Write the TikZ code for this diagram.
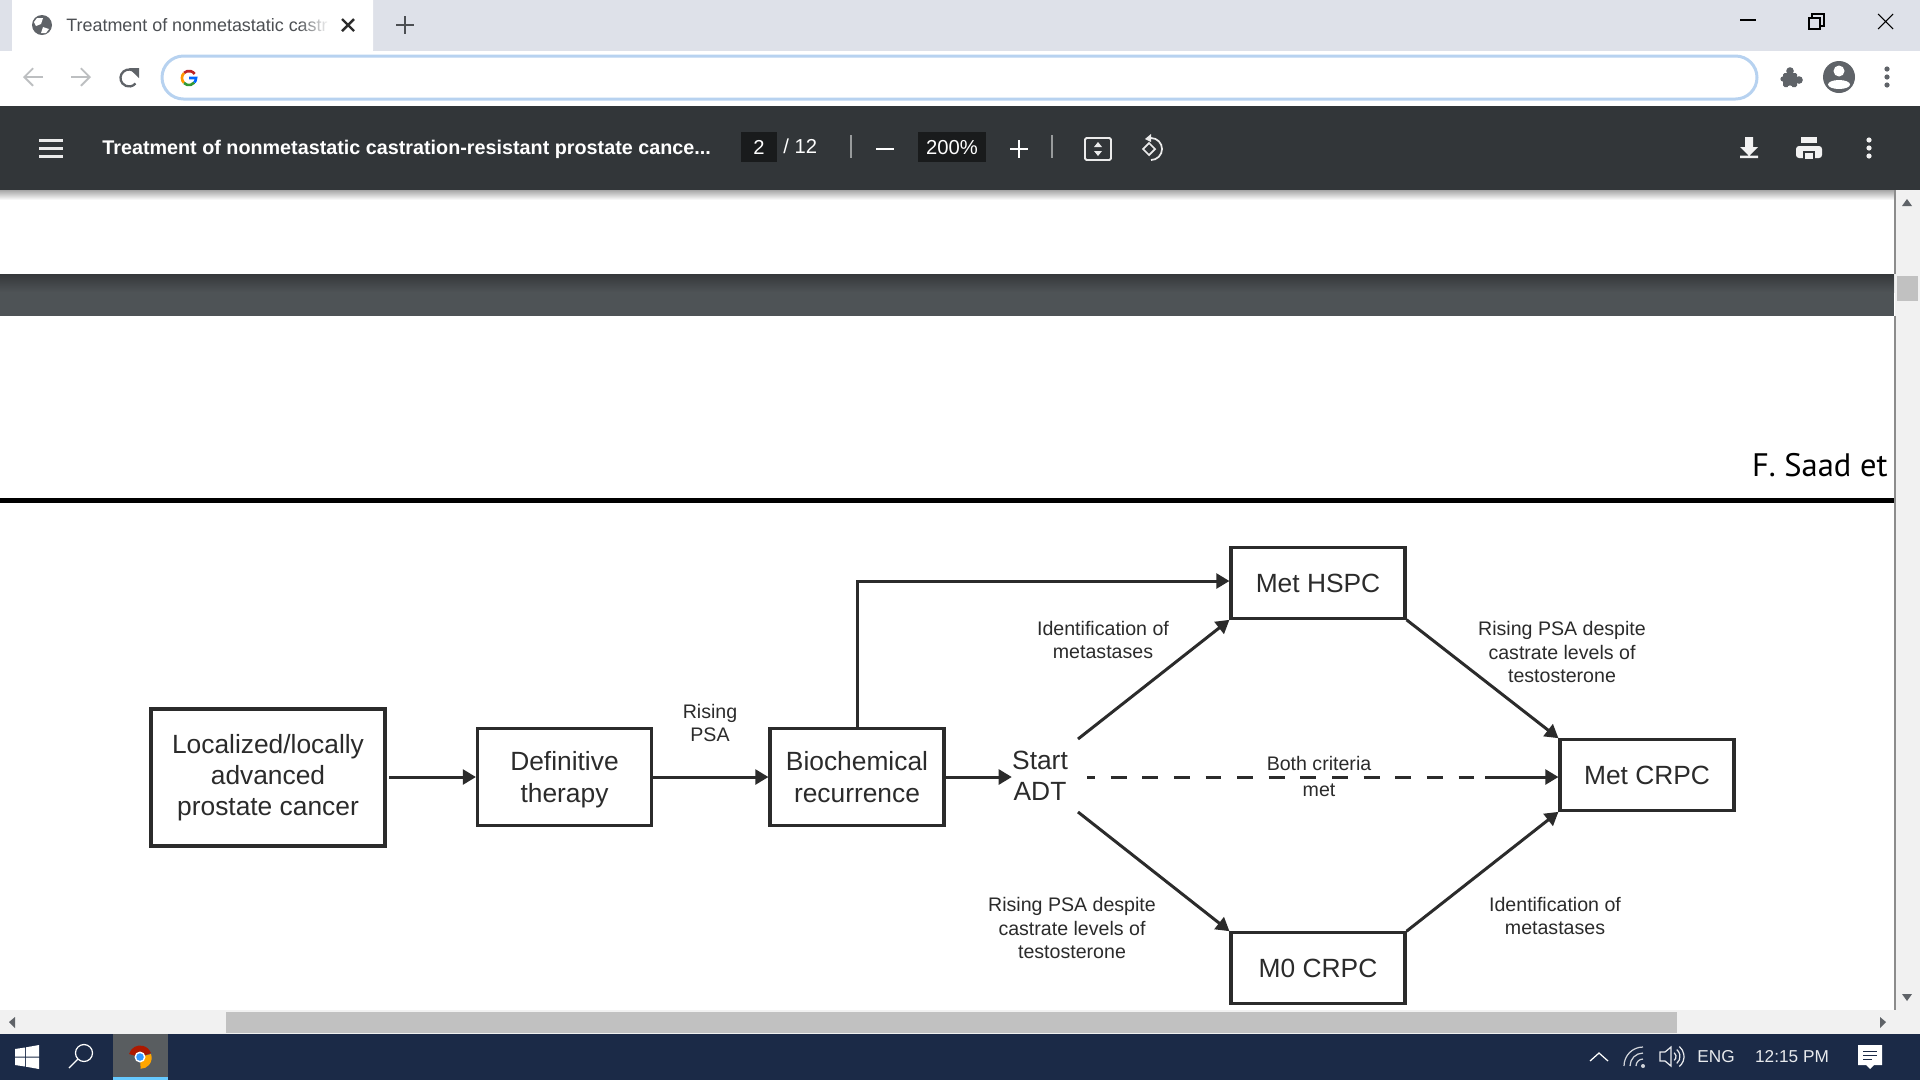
\documentclass[tikz,border=0pt]{standalone}
\usepackage{fontspec}
\setmainfont{Liberation Sans}
\newfontfamily\headfont{PT Sans}
\usetikzlibrary{arrows.meta,fadings}
\definecolor{stripgray}{HTML}{DEE1E9}
\definecolor{viewerbar}{HTML}{323639}
\definecolor{fieldblack}{HTML}{191B1C}
\definecolor{omniblue}{HTML}{B7D2F0}
\definecolor{icongray}{HTML}{5F6368}
\definecolor{navgray}{HTML}{BDBFC1}
\definecolor{taskblue}{HTML}{1B2A47}
\definecolor{taskbutton}{HTML}{595D60}
\definecolor{scrolltrack}{HTML}{F1F1F1}
\definecolor{scrollthumb}{HTML}{C1C1C1}
\definecolor{diagramink}{HTML}{2B2B2B}
\definecolor{bandtop}{HTML}{35383A}
\definecolor{bandmid}{HTML}{4E5356}
\tikzset{
  icon/.style={
    x=0.02cm,
    y=0.02cm
  },
  shortbox/.style={
    draw=diagramink,
    line width=1.8pt,
    font=\fontsize{15}{17.8}\selectfont,
    text=diagramink,
    align=center,
    inner sep=0,
    minimum width=3.48cm,
    minimum height=1.41cm
  },
  tallbox/.style={
    shortbox,
    text depth=-3pt,
    minimum height=1.94cm
  },
  bigbox/.style={
    shortbox,
    minimum width=4.68cm,
    minimum height=2.74cm
  },
  stage/.style={
    font=\fontsize{15}{17.8}\selectfont,
    text=diagramink,
    align=center,
    inner sep=0
  },
  note/.style={
    font=\fontsize{11.15}{13.6}\selectfont,
    text=diagramink,
    align=center,
    inner sep=0
  },
  flow/.style={
    draw=diagramink,
    line width=1.7pt,
    -{Triangle[length=7.5pt,width=8.5pt]}
  },
  uitext/.style={
    text=white,
    inner sep=0
  }
}
\begin{document}
\begin{tikzpicture}[x=0.02cm,y=-0.02cm]
  \useasboundingbox (0,0) rectangle (1920,1080);
  \fill[white] (0,0) rectangle (1920,1080);

  % browser tabs and address bar
  \fill[stripgray] (0,0) rectangle (1920,51);
  \fill[white,rounded corners=0.24cm] (12,-12) rectangle (373,62);
  \fill[white] (0,51) rectangle (1920,106);
  \fill[icongray] (42,25) circle (10);
  \fill[white] (37,18) -- (43,18) -- (41,24) -- (36,26) -- (34,22) -- cycle;
  \fill[white] (43,27) -- (49,29) -- (46,33) -- (41,33) -- cycle;
  \node[font=\fontsize{10.2}{12}\selectfont,text=icongray!80!black,anchor=west,inner sep=0] (tabtitle) at (66,25) {Treatment of nonmetastatic castr};
  \fill[white] (328,10) rectangle (340,40);
  \fill[white,path fading=west] (298,10) rectangle (329,40);
  \draw[line width=1.4pt,diagramink] (342,19) -- (354,31) (354,19) -- (342,31);
  \draw[line width=1.6pt,icongray!80!black] (396,25) -- (414,25) (405,16) -- (405,34);
  \draw[line width=0.6pt] (1740,20) -- (1756,20);
  \draw[line width=0.6pt] (1809,18) rectangle (1820,29);
  \draw[line width=0.6pt] (1812,18) -- (1812,14) -- (1824,14) -- (1824,26) -- (1820,26);
  \draw[line width=0.6pt] (1878,14) -- (1893,29) (1893,14) -- (1878,29);
  \draw[navgray,line width=1.1pt,-{Straight Barb[length=5pt,width=10pt]}] (43,77) -- (23,77);
  \draw[navgray,line width=1.1pt,-{Straight Barb[length=5pt,width=10pt]}] (71,77) -- (91,77);
  \begin{scope}[shift={(129,78)},icon]
    \draw[icongray,line width=1.3pt] (40:8.5) arc (40:320:8.5);
    \fill[icongray] (10,10) -- (10,0) -- (0,10) -- cycle;
  \end{scope}
  \draw[omniblue,line width=1.7pt,rounded corners=0.43cm] (162,56) rectangle (1757,99);
  \begin{scope}[shift={(189,78)},icon,line width=1.5pt]
    \draw[red!70!black!85] (-5,5) arc (135:35:7);
    \draw[orange!80!yellow] (-5,5) arc (135:225:7);
    \draw[green!50!black!80] (-5,-5) arc (225:320:7);
    \draw[blue!60!cyan] (5.4,-4.5) arc (320:360:7) -- (0,0);
  \end{scope}
  \begin{scope}[shift={(1791,78)},icon]
    \fill[icongray,rounded corners=0.03cm] (-8,-9) rectangle (6,5);
    \fill[icongray] (-1,7) circle (3.8) (8,-2) circle (3.8) (-8,-1) circle (2.6);
    \fill[white] (-1,-10) circle (2.6);
  \end{scope}
  \fill[icongray] (1839,77) circle (16);
  \fill[white] (1839,71) circle (5.5);
  \fill[white] (1839,84.5) ellipse (11 and 4.5);
  \foreach \dotrow in {69,77,85}{
    \fill[icongray] (1887,\dotrow) circle (2.6);
  }

  % pdf viewer toolbar
  \shade[top color=black!35,bottom color=white] (0,190) rectangle (1920,200);
  \fill[viewerbar] (0,106) rectangle (1920,190);
  \foreach \barrow in {140,148,156}{
    \fill[white!92!black] (39,\barrow-1.5) rectangle (63,\barrow+1.5);
  }
  \node[uitext,font=\fontsize{11.25}{14}\selectfont\bfseries,anchor=west] (pdftitle) at (102,149) {Treatment of nonmetastatic castration-resistant prostate cance...};
  \fill[fieldblack] (741,132) rectangle (777,162);
  \node[uitext,font=\fontsize{11.5}{14}\selectfont] (pagenum) at (759,147) {2};
  \node[uitext,font=\fontsize{11.5}{14}\selectfont,anchor=west] (pagetotal) at (783,146) {/ 12};
  \draw[white!50!viewerbar,line width=0.7pt] (851,135) -- (851,158) (1052,135) -- (1052,158);
  \draw[white,line width=1.2pt] (876,149) -- (894,149) (1010,149) -- (1028,149) (1019,140) -- (1019,158);
  \fill[fieldblack] (918,132) rectangle (986,162);
  \node[uitext,font=\fontsize{11.5}{14}\selectfont] (zoomfield) at (952,148) {200\%};
  \draw[white!92!black,line width=1.1pt,rounded corners=0.03cm] (1085,138) rectangle (1111,160);
  \fill[white!92!black] (1098,142) -- (1094,147) -- (1102,147) -- cycle (1098,156) -- (1094,151) -- (1102,151) -- cycle;
  \begin{scope}[shift={(1151,149)},icon]
    \draw[white!92!black,line width=1pt] (-8,0) -- (-2,6) -- (4,0) -- (-2,-6) -- cycle;
    \draw[white!92!black,line width=1pt] (0,-11) arc (-90:90:11);
    \fill[white!92!black] (0,15) -- (-6,10) -- (0,7) -- cycle;
  \end{scope}
  \fill[white!95!black] (1745,137) rectangle (1753,147) (1740,147) -- (1758,147) -- (1749,156) -- cycle (1740,155.5) rectangle (1758,158);
  \fill[white!95!black,rounded corners=0.06cm] (1796,146) rectangle (1822,158);
  \fill[white!95!black] (1801,137) rectangle (1817,143);
  \fill[viewerbar] (1803,151) rectangle (1815,159);
  \fill[white!95!black] (1805,153) rectangle (1813,159);
  \foreach \dotrow in {140,148,156}{
    \fill[white!95!black] (1869,\dotrow) circle (2.6);
  }

  % page with the figure
  \shade[top color=bandtop,bottom color=bandmid] (0,274) rectangle (1894,292);
  \fill[bandmid] (0,292) rectangle (1894,316);
  \node[font=\headfont\fontsize{18.5}{22}\selectfont,text=black,anchor=east,inner sep=0] (runninghead) at (1888,465) {F. Saad et};
  \fill[black] (0,497.5) rectangle (1894,502.5);

  \node[bigbox] (localized) at (268,777.5) {Localized/locally\\advanced\\prostate cancer};
  \node[tallbox] (definitive) at (564.5,777) {Definitive\\therapy};
  \node[tallbox] (biochem) at (857,777) {Biochemical\\recurrence};
  \node[stage] (startadt) at (1040,776) {Start\\ADT};
  \node[shortbox] (methspc) at (1318,583) {Met HSPC};
  \node[shortbox] (metcrpc) at (1647,775) {Met CRPC};
  \node[shortbox] (mzerocrpc) at (1318,968) {M0 CRPC};
  \coordinate (startup) at (1078,739);
  \coordinate (startdown) at (1078,812);
  \coordinate (dashstart) at (1087,777);
  \coordinate (dashend) at (1485,777);
  \coordinate (bioturn) at (857,581);

  \draw[flow,shorten <=1.5pt] (localized.east |- definitive) -- (definitive.west);
  \draw[flow] (definitive.east) -- (biochem.west);
  \draw[flow] (biochem.east) -- (startadt.west |- biochem);
  \draw[flow] (biochem.north) -- (bioturn) -- (bioturn -| methspc.west);
  \draw[flow] (startup) -- (methspc.south west);
  \draw[flow] (startdown) -- (mzerocrpc.north west);
  \draw[flow] (methspc.south east) -- (metcrpc.north west);
  \draw[flow] (mzerocrpc.north east) -- (metcrpc.south west);
  \draw[draw=diagramink,line width=1.7pt,dash pattern=on 9pt off 9pt,dash phase=4.5pt] (dashstart) -- (dashend);
  \draw[flow] (dashend) -- (dashend -| metcrpc.west);

  \node[note] (risingpsa) at (710,723) {Rising\\PSA};
  \node[note] (idupper) at (1103,640) {Identification of\\metastases};
  \node[note] (psaupper) at (1562,652) {Rising PSA despite\\castrate levels of\\testosterone};
  \node[note] (bothcriteria) at (1319,763) {Both criteria};
  \node[note] (bothmet) at (1319,790) {met};
  \node[note] (psalower) at (1072,928) {Rising PSA despite\\castrate levels of\\testosterone};
  \node[note] (idlower) at (1555,916) {Identification of\\metastases};

  % scrollbars
  \fill[scrolltrack] (1895,190) rectangle (1920,1010);
  \draw[black!45,line width=0.6pt] (1895,190) -- (1895,274) (1895,316) -- (1895,1010);
  \fill[scrollthumb] (1897,276) rectangle (1918,301);
  \fill[icongray] (1907,199) -- (1902,206) -- (1912,206) -- cycle;
  \fill[icongray] (1907,1001) -- (1902,994) -- (1912,994) -- cycle;
  \fill[scrolltrack] (0,1010) rectangle (1920,1034);
  \fill[scrollthumb] (226,1012) rectangle (1677,1033);
  \fill[icongray] (9,1022) -- (15,1017) -- (15,1028) -- cycle;
  \fill[icongray] (1886,1022) -- (1880,1017) -- (1880,1028) -- cycle;

  % windows taskbar
  \fill[taskblue] (0,1034) rectangle (1920,1080);
  \fill[white] (15,1049) -- (25,1047.5) -- (25,1056.5) -- (15,1056.5) -- cycle;
  \fill[white] (26,1047.3) -- (39,1045) -- (39,1056.5) -- (26,1056.5) -- cycle;
  \fill[white] (15,1057.5) -- (25,1057.5) -- (25,1066.5) -- (15,1065) -- cycle;
  \fill[white] (26,1057.5) -- (39,1057.5) -- (39,1069) -- (26,1066.7) -- cycle;
  \draw[white,line width=0.7pt] (84,1053) circle (8.5) (78,1059) -- (69,1068);
  \fill[taskbutton] (113,1034) rectangle (168,1080);
  \fill[blue!35!cyan!60!white] (113,1077) rectangle (168,1080);
  \begin{scope}[shift={(140,1057)},icon]
    \fill[red!60!black!80!orange] (0,0) -- (-11,3) arc (165:20:11.5) -- cycle;
    \fill[orange!70!yellow] (0,0) -- (11,3) arc (20:-90:11) -- cycle;
    \fill[white] (0,0) circle (5.5);
    \fill[blue!50!cyan!80!white] (0,0) circle (3.8);
  \end{scope}
  \draw[white,line width=0.7pt] (1590,1061) -- (1599,1053) -- (1608,1061);
  \begin{scope}[shift={(1643,1066)},icon,white!80!taskblue,line width=0.7pt]
    \foreach \wifir in {7,13,19}{
      \draw (-\wifir,0) arc (180:90:\wifir);
    }
    \fill (0,0) circle (2);
  \end{scope}
  \draw[white!90!taskblue,line width=0.7pt] (1660,1052) -- (1665,1052) -- (1671,1047) -- (1671,1066) -- (1665,1061) -- (1660,1061) -- cycle;
  \begin{scope}[shift={(1671,1056.5)},icon,white!90!taskblue,line width=0.7pt]
    \foreach \soundr in {5,9,13}{
      \draw (-50:\soundr) arc (-50:50:\soundr);
    }
  \end{scope}
  \node[uitext,font=\fontsize{9.8}{12}\selectfont,text=white!90!taskblue] (langtray) at (1716,1057) {ENG};
  \node[uitext,font=\fontsize{9.8}{12}\selectfont,text=white!90!taskblue] (clocktray) at (1792,1057) {12:15 PM};
  \fill[white] (1858,1045) rectangle (1882,1065) (1866,1065) -- (1874,1065) -- (1870,1069) -- cycle;
  \draw[taskblue,line width=0.5pt] (1863,1051) -- (1877,1051) (1863,1055) -- (1877,1055) (1863,1059) -- (1872,1059);
\end{tikzpicture}
\end{document}
